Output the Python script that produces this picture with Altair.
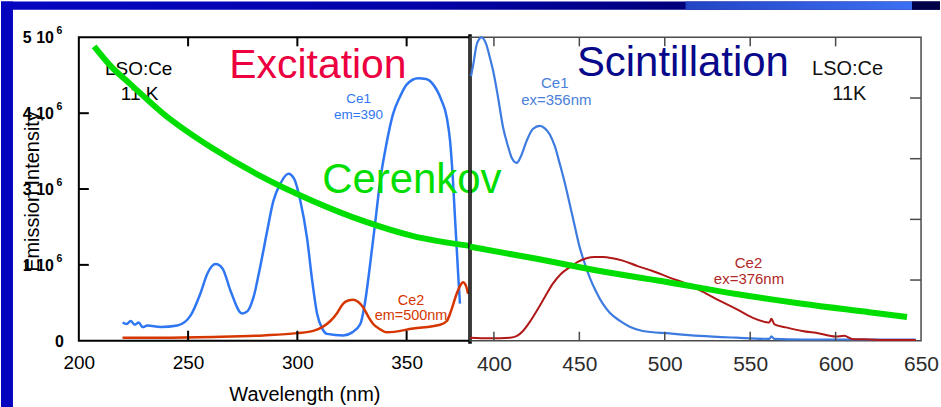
import altair as alt
import pandas as pd

# ---------------- data ----------------
# Left panel: excitation spectra (y in axis-grid units; 4 = top of frame)
exc_ce1_nm = [220.0, 221.9, 223.7, 225.6, 227.4, 229.2, 231.4, 237.4, 245.1, 251.1, 255.6, 258.9,
              262.6, 265.8, 269.4, 274.7, 277.2, 279.9, 283.1, 286.2, 289.0, 292.2, 295.9, 298.6,
              301.4, 304.4, 306.8, 309.0, 311.4, 313.6, 321.0, 325.1, 328.8, 331.1, 333.3, 335.6,
              337.9, 340.6, 343.8, 347.0, 350.1, 355.3, 358.9, 362.1, 365.8, 368.4, 369.9, 371.2,
              372.1, 372.9, 373.7, 374.4]
exc_ce1_val = [0.24, 0.22, 0.26, 0.21, 0.24, 0.18, 0.20, 0.18, 0.20, 0.33, 0.62, 0.89,
               1.01, 0.95, 0.66, 0.36, 0.39, 0.57, 0.99, 1.45, 1.84, 2.07, 2.20, 2.13,
               1.84, 1.36, 0.79, 0.36, 0.16, 0.09, 0.07, 0.11, 0.22, 0.53, 1.01, 1.55,
               2.11, 2.57, 2.99, 3.22, 3.38, 3.46, 3.45, 3.38, 3.18, 2.94, 2.63, 2.11,
               1.64, 1.23, 0.82, 0.49]
exc_ce2_nm = [220.0, 237.4, 261.6, 284.5, 299.9, 307.3, 311.4, 315.1, 318.3, 321.0, 323.3, 325.6,
              327.9, 330.1, 332.4, 334.7, 337.9, 341.0, 353.0, 365.3, 368.4, 370.3, 372.9, 374.4,
              375.8, 377.2, 378.1]
exc_ce2_val = [0.04, 0.04, 0.05, 0.07, 0.10, 0.13, 0.18, 0.26, 0.37, 0.49, 0.53, 0.54,
               0.51, 0.44, 0.32, 0.22, 0.15, 0.11, 0.16, 0.21, 0.26, 0.39, 0.62, 0.72,
               0.77, 0.72, 0.62]
cer_left_nm = [207.0, 214.6, 223.7, 238.8, 261.6, 284.5, 307.3, 330.1, 353.0, 379.0]
cer_left_val = [3.88, 3.62, 3.38, 2.99, 2.53, 2.15, 1.84, 1.58, 1.38, 1.25]

# Right panel: scintillation spectra (y in axis-grid units; 5 = top of frame)
sci_ce1_nm = [386.6, 387.9, 390.1, 392.8, 395.3, 397.7, 399.6, 402.3, 405.4, 408.2, 410.5, 413.3,
              415.8, 419.1, 422.8, 426.9, 429.8, 432.7, 435.6, 438.6, 441.5, 444.4, 447.3, 450.3,
              453.2, 456.1, 459.6, 463.7, 467.8, 473.6, 479.5, 487.1, 502.8, 520.3, 541.8, 561.2,
              562.4, 564.1, 580.5, 646.9]
sci_ce1_val = [4.36, 4.55, 4.90, 5.00, 4.90, 4.66, 4.44, 4.03, 3.51, 3.21, 3.01, 2.93,
               3.04, 3.29, 3.49, 3.54, 3.50, 3.40, 3.21, 2.91, 2.60, 2.25, 1.89, 1.53,
               1.27, 1.04, 0.82, 0.61, 0.46, 0.33, 0.23, 0.16, 0.12, 0.08, 0.05, 0.03,
               0.07, 0.03, 0.02, 0.02]
sci_ce2_nm = [386.0, 397.7, 409.4, 413.5, 417.0, 421.0, 425.0, 429.8, 434.5, 439.2, 444.4, 449.1,
              454.2, 459.0, 463.7, 469.5, 475.4, 484.1, 492.9, 502.8, 512.6, 522.1, 532.0, 542.0,
              551.3, 561.2, 562.4, 564.2, 571.0, 580.5, 590.4, 599.8, 605.0, 609.7, 619.6, 631.3,
              646.9]
sci_ce2_val = [0.05, 0.04, 0.05, 0.08, 0.16, 0.31, 0.49, 0.72, 0.94, 1.10, 1.21, 1.30,
               1.36, 1.38, 1.38, 1.36, 1.32, 1.23, 1.15, 1.04, 0.94, 0.81, 0.66, 0.52,
               0.38, 0.30, 0.36, 0.27, 0.22, 0.16, 0.12, 0.07, 0.08, 0.03, 0.02, 0.01,
               0.01]
cer_right_nm = [386.0, 425.0, 463.7, 502.8, 541.8, 580.5, 619.6, 641.8]
cer_right_val = [1.55, 1.35, 1.14, 0.96, 0.77, 0.61, 0.47, 0.39]

left_x_ticks = [200, 250, 300, 350]
left_y_ticks = [0, 1, 2, 3, 4]
left_y_label_base = ["0", "1 10", "3 10", "4 10", "5 10"]
left_y_label_exp = ["", "6", "6", "6", "6"]
right_x_ticks = [400, 450, 500, 550, 600, 650]
right_y_ticks = [1, 2, 3, 4]

# ---------------- styling ----------------
FONT = "Liberation Sans"
W1, W2, H = 392, 452, 304
GREEN = "#00DD00"
BLUE_L, RED_L = "#2F76F2", "#D63600"
BLUE_R, RED_R = "#3D7BE0", "#B01818"
FRAME_R = "#4a4a4a"


def df(nm, v):
    return pd.DataFrame({"nm": nm, "v": v})


def ann(nm, v, t):
    return pd.DataFrame({"nm": nm, "v": v, "t": t})


one = alt.Data(values=[{"a": 1}])

# ---------- left (excitation) panel ----------
xl = alt.X("nm:Q", scale=alt.Scale(domain=[200, 379], nice=False, zero=False),
           axis=alt.Axis(values=left_x_ticks, ticks=False, domain=False, grid=False,
                         labelFont=FONT, labelFontSize=19, labelColor="black",
                         labelPadding=13, labelFlush=False,
                         title="Wavelength (nm)", titleFont=FONT, titleFontSize=20,
                         titleFontWeight="normal", titleColor="black",
                         titleX=226, titleY=60, titleBaseline="alphabetic", titleAlign="center"))
yl = alt.Y("v:Q", scale=alt.Scale(domain=[0, 4], nice=False, zero=False),
           axis=alt.Axis(values=left_y_ticks, labels=False, ticks=False, domain=False,
                         grid=False,
                         title="Emission Intensity", titleFont=FONT, titleFontSize=20,
                         titleFontWeight="normal", titleColor="black", titleAngle=270,
                         titleX=-40, titleY=154, titleBaseline="alphabetic", titleAlign="center"))


def grad(stops):
    return alt.Gradient(gradient="linear", x1=0, x2=1, y1=0, y2=0,
                        stops=[alt.GradientStop(color=c, offset=o) for o, c in stops])


bg_band = alt.Chart(one).mark_rect(fill=grad([(0, "#0606C2"), (0.45, "#0303A8"), (0.75, "#000078"), (1, "#000060")])).encode(
    x=alt.value(-78), x2=alt.value(863), y=alt.value(-36), y2=alt.value(-27.7))
bg_light = alt.Chart(one).mark_rect(fill=grad([(0, "#2244C4"), (1, "#3C70F2")])).encode(
    x=alt.value(608), x2=alt.value(835), y=alt.value(-36), y2=alt.value(-27.7))
bg_dark = alt.Chart(one).mark_rect(fill="#000048").encode(
    x=alt.value(835), x2=alt.value(863), y=alt.value(-36), y2=alt.value(-27.7))
bg_strip = alt.Chart(one).mark_rect(fill="#0505C0").encode(
    x=alt.value(-78), x2=alt.value(-66), y=alt.value(-36), y2=alt.value(371))

# y-axis labels with raised exponent
ylab_df = pd.DataFrame({"v": left_y_ticks, "t": left_y_label_base, "e": left_y_label_exp})
ylab_zero = alt.Chart(ylab_df).transform_filter("datum.e == ''").mark_text(
    font=FONT, fontSize=16, fontWeight="bold", color="black", align="right",
    baseline="alphabetic", dy=6).encode(y=yl, x=alt.value(-15), text="t:N")
ylab_main = alt.Chart(ylab_df).transform_filter("datum.e != ''").mark_text(
    font=FONT, fontSize=16, fontWeight="bold", color="black", align="right",
    baseline="alphabetic", dy=6).encode(y=yl, x=alt.value(-25), text="t:N")
ylab_exp = alt.Chart(ylab_df).transform_filter("datum.e != ''").mark_text(
    font=FONT, fontSize=10.5, fontWeight="bold", color="black", align="left",
    baseline="alphabetic", dy=-3).encode(y=yl, x=alt.value(-22.5), text="e:N")

lt_ticks_df = pd.DataFrame({"nm": [t for t in left_x_ticks if t > 200]})
ly_ticks_df = pd.DataFrame({"v": [t for t in left_y_ticks if 0 < t < 4]})
tick_bottom_l = alt.Chart(lt_ticks_df).mark_rule(color="black", strokeWidth=2).encode(
    x=xl, y=alt.value(H), y2=alt.value(H - 10))
tick_top_l = alt.Chart(lt_ticks_df).mark_rule(color="black", strokeWidth=2).encode(
    x=xl, y=alt.value(0), y2=alt.value(9))
tick_left_l = alt.Chart(ly_ticks_df).mark_rule(color="black", strokeWidth=2).encode(
    y=yl, x=alt.value(0), x2=alt.value(10))
edge_l = alt.Chart(one).mark_rule(color="black", strokeWidth=3.5).encode(
    x=alt.value(W1), y=alt.value(-3), y2=alt.value(H + 3))

ce1_l = alt.Chart(df(exc_ce1_nm, exc_ce1_val)).mark_line(color=BLUE_L, strokeWidth=2.5, interpolate="monotone").encode(x=xl, y=yl)
ce2_l = alt.Chart(df(exc_ce2_nm, exc_ce2_val)).mark_line(color=RED_L, strokeWidth=2.5, interpolate="monotone").encode(x=xl, y=yl)
cer_l = alt.Chart(df(cer_left_nm, cer_left_val)).mark_line(color=GREEN, strokeWidth=6, strokeCap="butt", interpolate="monotone").encode(x=xl, y=yl)


def text_layer(data, x, y, color, size, weight="normal"):
    return alt.Chart(data).mark_text(font=FONT, fontSize=size, color=color, fontWeight=weight,
                                     align="center", baseline="alphabetic").encode(x=x, y=y, text="t:N")


t_exc = text_layer(ann([309.4], [3.465], ["Excitation"]), xl, yl, "#EC0040", 41)
t_lso_l = text_layer(ann([227.4, 227.8], [3.50, 3.18], ["LSO:Ce", "11 K"]), xl, yl, "black", 19)
t_ce1_l = text_layer(ann([328.0, 328.0], [3.13, 2.92], ["Ce1", "em=390"]), xl, yl, BLUE_L, 13.5)
t_ce2_l = text_layer(ann([352.0, 352.0], [0.47, 0.27], ["Ce2", "em=500nm"]), xl, yl, RED_L, 14.5)
t_cer = text_layer(ann([352.4], [1.95], ["Cerenkov"]), xl, yl, GREEN, 42)

left = alt.layer(
    bg_band, bg_light, bg_dark, bg_strip,
    ylab_zero, ylab_main, ylab_exp,
    ce1_l, ce2_l,
    t_exc, t_lso_l, t_ce1_l, t_ce2_l, t_cer,
    cer_l,
    tick_bottom_l, tick_top_l, tick_left_l, edge_l,
).properties(width=W1, height=H, view=alt.ViewBackground(stroke="black", strokeWidth=2, fill="white"))

# ---------- right (scintillation) panel ----------
xr = alt.X("nm:Q", scale=alt.Scale(domain=[386, 650], nice=False, zero=False),
           axis=alt.Axis(values=right_x_ticks, ticks=False, domain=False, grid=False,
                         labelFont=FONT, labelFontSize=21, labelColor="#2c2c2c",
                         labelPadding=13, labelFlush=False, title=None))
yr = alt.Y("v:Q", scale=alt.Scale(domain=[0, 5], nice=False, zero=False), axis=None)

rt_ticks_df = pd.DataFrame({"nm": [t for t in right_x_ticks if t < 650]})
ry_ticks_df = pd.DataFrame({"v": right_y_ticks})
tick_bottom_r = alt.Chart(rt_ticks_df).mark_rule(color=FRAME_R, strokeWidth=1.5).encode(
    x=xr, y=alt.value(H), y2=alt.value(H - 9))
tick_top_r = alt.Chart(rt_ticks_df).mark_rule(color=FRAME_R, strokeWidth=1.5).encode(
    x=xr, y=alt.value(0), y2=alt.value(9))
tick_right_r = alt.Chart(ry_ticks_df).mark_rule(color=FRAME_R, strokeWidth=1.5).encode(
    y=yr, x=alt.value(W2 - 11), x2=alt.value(W2))

ce1_r = alt.Chart(df(sci_ce1_nm, sci_ce1_val)).mark_line(color=BLUE_R, strokeWidth=2.2, interpolate="monotone").encode(x=xr, y=yr)
ce2_r = alt.Chart(df(sci_ce2_nm, sci_ce2_val)).mark_line(color=RED_R, strokeWidth=2, interpolate="monotone").encode(x=xr, y=yr)
cer_r = alt.Chart(df(cer_right_nm, cer_right_val)).mark_line(color=GREEN, strokeWidth=6, strokeCap="butt", interpolate="monotone").encode(x=xr, y=yr)

t_sci = text_layer(ann([510.6], [4.36], ["Scintillation"]), xr, yr, "#08088A", 42)
t_lso_r = text_layer(ann([607.0, 608.0], [4.386, 3.975], ["LSO:Ce", "11K"]), xr, yr, "#111111", 20)
t_ce1_r = text_layer(ann([435.6, 436.5], [4.166, 3.893], ["Ce1", "ex=356nm"]), xr, yr, "#4A80DA", 15)
t_ce2_r = text_layer(ann([549.0, 549.3], [1.206, 0.933], ["Ce2", "ex=376nm"]), xr, yr, "#B02828", 15)

right = alt.layer(
    ce1_r, ce2_r, cer_r,
    t_sci, t_lso_r, t_ce1_r, t_ce2_r,
    tick_bottom_r, tick_top_r, tick_right_r,
).properties(width=W2, height=H, view=alt.ViewBackground(stroke=FRAME_R, strokeWidth=1.5))

chart = alt.hconcat(left, right, spacing=0, bounds="flush").configure(
    background="white", padding=0)

chart.save("out.html", embed_options={"renderer": "svg", "actions": False})
